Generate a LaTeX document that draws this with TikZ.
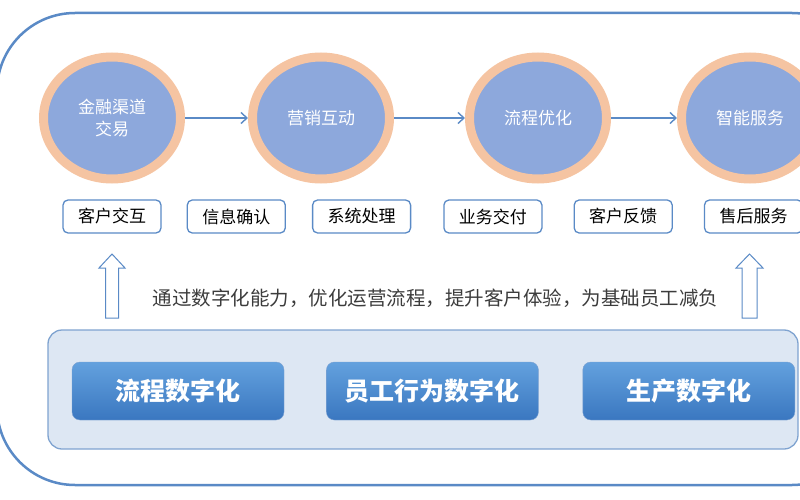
\documentclass[tikz,border=0pt]{standalone}
\usepackage{fontspec}
\setmainfont{Noto Sans CJK SC}
\usetikzlibrary{positioning}
\usetikzlibrary{shapes.geometric}
\usetikzlibrary {arrows.meta}

\definecolor{frameblue}{HTML}{5A8AC6}
\definecolor{ringpeach}{HTML}{F5C4A2}
\definecolor{discblue}{HTML}{8DA8DC}
\definecolor{panelfill}{HTML}{DDE7F3}
\definecolor{panelline}{HTML}{7FA3D0}
\definecolor{btntop}{HTML}{63A1DE}
\definecolor{btnbottom}{HTML}{3A77C0}
\definecolor{desctext}{HTML}{3C3C3C}

\begin{document}
\begin{tikzpicture}[x=1pt,y=-1pt,
  disc/.style={ellipse,draw=ringpeach,line width=9pt,fill=discblue,minimum width=137pt,minimum height=122pt,inner sep=0pt,text=white,align=center},
  tag/.style={draw=frameblue,line width=1.3pt,rounded corners=5pt,fill=white,minimum width=98pt,minimum height=33pt,inner sep=0pt},
  btn/.style={draw=frameblue!80,rounded corners=8pt,top color=btntop,bottom color=btnbottom,minimum width=212pt,minimum height=58pt,inner sep=0pt,text=white},
  flow/.style={draw=frameblue,line width=1.4pt,-{Straight Barb[length=6pt,width=11pt]}},
  hollow/.style={draw=frameblue,line width=1pt,fill=white}]

\useasboundingbox (0,0) rectangle (800,500);
\def\discfont{\fontsize{17pt}{22pt}\selectfont}
\def\tagfont{\fontsize{17pt}{20pt}\selectfont}
\def\btnfont{\fontsize{25pt}{28pt}\selectfont\bfseries}

% outer frame
\draw[frameblue,line width=2.5pt,rounded corners=78pt] (-3,13) rectangle (870,485);

\node[disc,font=\discfont] (c1) at (112,118) {金融渠道\\交易};
\node[disc,font=\discfont] (c2) at (321,118) {营销互动};
\node[disc,font=\discfont] (c3) at (538,118) {流程优化};
\node[disc,font=\discfont] (c4) at (750,118) {智能服务};

\draw[flow] (c1) -- (c2);
\draw[flow] (c2) -- (c3);
\draw[flow] (c3) -- (c4);

\node[tag,font=\tagfont] (t1) at (112,216.5) {客户交互};
\node[tag,font=\tagfont,right=25pt of t1] (t2) {信息确认};
\node[tag,font=\tagfont,right=26pt of t2] (t3) {系统处理};
\node[tag,font=\tagfont,right=32pt of t3] (t4) {业务交付};
\node[tag,font=\tagfont,right=31pt of t4] (t5) {客户反馈};
\node[tag,font=\tagfont,right=31pt of t5] (t6) {售后服务};

% hollow arrows
\draw[hollow] (105.5,318) -- (105.5,268) -- (99,268) -- (112,254) -- (125,268) -- (118.5,268) -- (118.5,318) -- cycle;
\draw[hollow] (742,318) -- (742,268) -- (736,268) -- (749.5,254) -- (763,268) -- (757,268) -- (757,318) -- cycle;

\node[text=desctext,font=\fontsize{19.5pt}{22pt}\selectfont] (desc) at (435.5,298) {通过数字化能力，优化运营流程，提升客户体验，为基础员工减负};

\node[draw=panelline,line width=1.3pt,fill=panelfill,rounded corners=14pt,minimum width=750pt,minimum height=119pt] (base) at (423,389.5) {};

\node[btn,font=\btnfont] (b1) at (178,391) {流程数字化};
\node[btn,font=\btnfont,right=42pt of b1] (b2) {员工行为数字化};
\node[btn,font=\btnfont,right=44pt of b2] (b3) {生产数字化};
\end{tikzpicture}
\end{document}
